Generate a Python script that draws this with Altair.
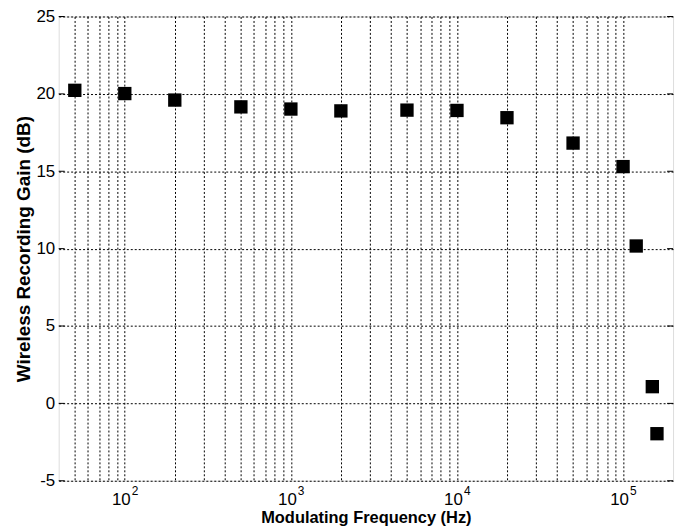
import altair as alt
import pandas as pd

freq = [50, 100, 200, 500, 1000, 2000, 5000, 10000, 20000, 50000, 100000, 120000, 150000, 160000]
gain = [20.23, 20.02, 19.6, 19.16, 19.02, 18.9, 18.95, 18.93, 18.46, 16.82, 15.3, 10.17, 1.08, -1.96]

x_grid = [m * 10 ** e for e in range(1, 6) for m in range(1, 10) if 40 < m * 10 ** e < 200000]
x_labels = [100, 1000, 10000, 100000]
x_exponents = ["2", "3", "4", "5"]
y_ticks = [-5, 0, 5, 10, 15, 20, 25]

df = pd.DataFrame({"f": freq, "g": gain})
ticks_df = pd.DataFrame({"y": y_ticks})
exp_df = pd.DataFrame({"f": x_labels, "e": x_exponents})

FONT = "Liberation Sans"
W, H = 618, 467

xscale = alt.Scale(type="log", domain=[40, 200000], nice=False)
yscale = alt.Scale(domain=[-5, 25], nice=False, zero=False)

label_expr = "indexof([100, 1000, 10000, 100000], datum.value) >= 0 ? '10' : ''"

points = alt.Chart(df).mark_point(shape="square", filled=True, color="black", size=180, opacity=1).encode(
    x=alt.X("f:Q", scale=xscale, axis=alt.Axis(
        values=x_grid, labelExpr=label_expr, title="Modulating Frequency (Hz)",
        grid=True, gridColor="black", gridDash=[2, 2], gridWidth=1, gridOpacity=1,
        ticks=False, domain=False, labelFont=FONT, labelFontSize=17, labelColor="black",
        labelPadding=11, labelOffset=-4, titleFont=FONT, titleFontSize=16.5, titleFontWeight="bold",
        titleColor="black", titlePadding=2, labelFlush=False)),
    y=alt.Y("g:Q", scale=yscale, axis=alt.Axis(
        values=y_ticks, labelExpr="'' + datum.value", title="Wireless Recording Gain (dB)",
        grid=True, gridColor="black", gridDash=[2, 2], gridWidth=1, gridOpacity=1,
        ticks=False, domain=False, labelFont=FONT, labelFontSize=17, labelColor="black",
        labelPadding=4, titleFont=FONT, titleFontSize=19, titleFontWeight="bold",
        titleColor="black", titlePadding=2)),
)

exponents = alt.Chart(exp_df).mark_text(
    font=FONT, fontSize=12, color="black", align="left", baseline="top", dx=7
).encode(x=alt.X("f:Q", scale=xscale), y=alt.value(H + 5), text="e:N")

left_ticks = alt.Chart(ticks_df).mark_rule(color="black", strokeWidth=1).encode(
    y=alt.Y("y:Q", scale=yscale), x=alt.value(0), x2=alt.value(6))
right_ticks = alt.Chart(ticks_df).mark_rule(color="black", strokeWidth=1).encode(
    y=alt.Y("y:Q", scale=yscale), x=alt.value(W - 6), x2=alt.value(W))

chart = alt.layer(points, exponents, left_ticks, right_ticks).properties(
    width=W, height=H,
    autosize=alt.AutoSizeParams(type="none"),
    padding={"left": 51, "top": 7, "right": 10, "bottom": 50},
).configure_view(stroke="black", strokeWidth=1.2).configure(background="white")

chart.save("out.html", embed_options={"renderer": "svg", "actions": False})
